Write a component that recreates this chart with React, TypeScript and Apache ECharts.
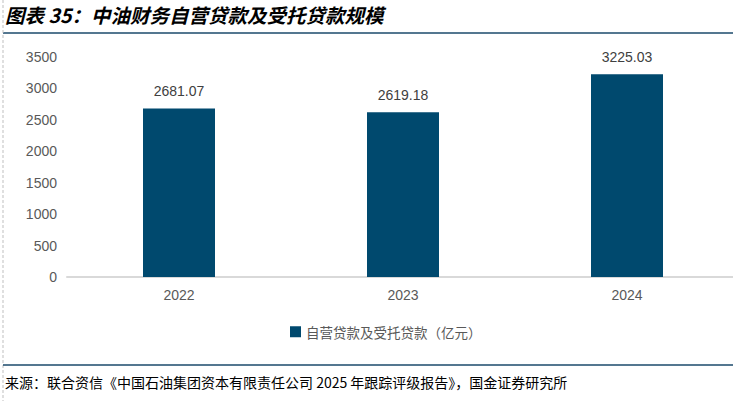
import React, { useEffect, useRef } from "react";
import * as echarts from "echarts";

const categories = ["2022", "2023", "2024"];
const loanValues = [2681.07, 2619.18, 3225.03];
const seriesName = "自营贷款及受托贷款（亿元）";
const yTicks = { min: 0, max: 3500, interval: 500 };
const titleText = "图表 35：中油财务自营贷款及受托贷款规模";
const sourceText = "来源：联合资信《中国石油集团资本有限责任公司 2025 年跟踪评级报告》，国金证券研究所";

export default function App() {
  const ref = useRef<HTMLDivElement>(null);
  useEffect(() => {
    if (!ref.current) return;
    const chart = echarts.init(ref.current, null, { renderer: "svg" });
    const cjk = '"Noto Sans CJK SC", "Noto Sans", sans-serif';
    const latin = '"Liberation Sans", Arial, sans-serif';
    chart.setOption({
      animation: false,
      backgroundColor: "#ffffff",
      grid: { left: 67, top: 57, width: 672, height: 220, containLabel: false },
      legend: {
        data: [seriesName],
        left: 285,
        top: 320,
        itemWidth: 11,
        itemHeight: 11,
        itemGap: 4,
        icon: "rect",
        textStyle: { fontFamily: cjk, fontSize: 13.5, color: "#595959" },
      },
      xAxis: {
        type: "category",
        data: categories,
        axisLine: { lineStyle: { color: "#d9d9d9", width: 2 } },
        axisTick: { show: false },
        axisLabel: { fontFamily: latin, fontSize: 14, color: "#595959", margin: 11 },
      },
      yAxis: {
        type: "value",
        min: yTicks.min,
        max: yTicks.max,
        interval: yTicks.interval,
        axisLine: { show: false },
        axisTick: { show: false },
        splitLine: { show: false },
        axisLabel: {
          fontFamily: latin,
          fontSize: 14,
          color: "#595959",
          margin: 10,
          formatter: (v: number) => String(v),
        },
      },
      series: [
        {
          name: seriesName,
          type: "bar",
          data: loanValues,
          barWidth: 72,
          itemStyle: { color: "#00496E" },
          label: {
            show: true,
            position: "top",
            distance: 10,
            fontFamily: latin,
            fontSize: 14,
            color: "#404040",
            formatter: (p: any) => p.value.toFixed(2),
          },
        },
      ],
      graphic: [
        {
          type: "text",
          left: 5,
          top: 5,
          style: {
            text: titleText,
            font: `italic bold 19.5px ${cjk}`,
            fill: "#000000",
          },
        },
        {
          type: "line",
          shape: { x1: 3, y1: 33, x2: 733, y2: 33 },
          style: { stroke: "#1B4A6B", lineWidth: 1.5 },
        },
        {
          type: "line",
          shape: { x1: 3, y1: 0, x2: 3, y2: 401 },
          style: { stroke: "#bfbfbf", lineWidth: 1, lineDash: [3, 2] },
        },
        {
          type: "line",
          shape: { x1: 3, y1: 365, x2: 733, y2: 365 },
          style: { stroke: "#1B4A6B", lineWidth: 1.5 },
        },
        {
          type: "text",
          left: 5,
          top: 375,
          style: {
            text: sourceText,
            font: `14px ${cjk}`,
            fill: "#000000",
          },
        },
      ],
    });
    return () => chart.dispose();
  }, []);
  return (
    <div
      style={{
        position: "fixed",
        left: 0,
        top: 0,
        width: 733,
        height: 401,
        overflow: "hidden",
      }}
    >
      <div ref={ref} style={{ width: 745, height: 401 }} />
    </div>
  );
}
